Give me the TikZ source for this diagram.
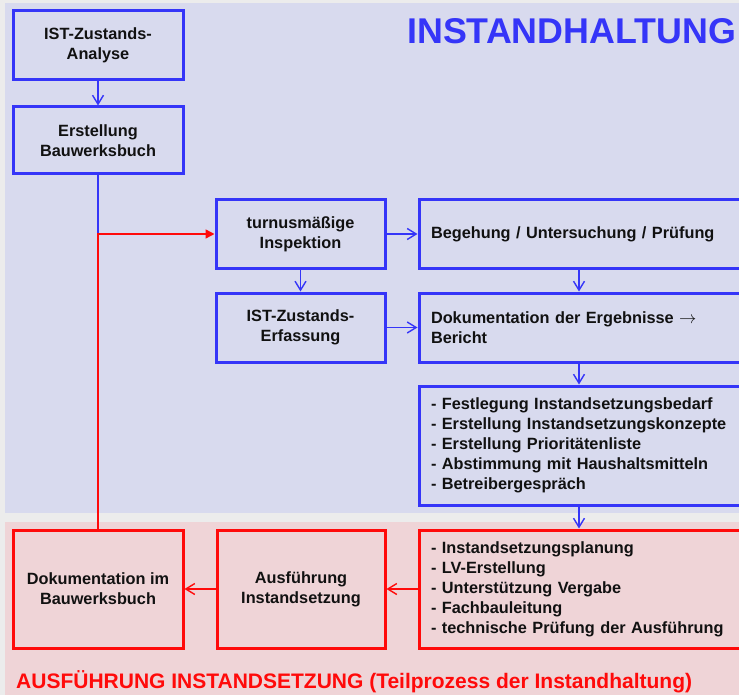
\documentclass[tikz,border=0pt]{standalone}
\usepackage{fontspec}
\setmainfont{Liberation Sans}
\usetikzlibrary{arrows.meta}
\definecolor{bgray}{HTML}{ECECEC}
\definecolor{bluearea}{HTML}{D8DAEE}
\definecolor{redarea}{HTML}{EFD4D7}
\definecolor{bblue}{HTML}{3535F8}
\definecolor{rred}{HTML}{FF0A0A}
\definecolor{txt}{HTML}{111111}
\tikzset{
  boxfont/.style={font=\bfseries\fontsize{16.3}{20}\selectfont, text=txt},
  bbox/.style={draw=bblue, line width=3pt, boxfont, align=center, inner sep=0pt},
  rbox/.style={draw=rred, line width=3pt, boxfont, align=center, inner sep=0pt},
  widebox/.style={minimum width=326pt, text width=302pt, inner xsep=12pt, align=left},
  bline/.style={draw=bblue, line width=1.4pt},
  rline/.style={draw=rred, line width=1.4pt},
  barb/.style={-{Straight Barb[length=9pt,width=11pt,line width=1.4pt]}},
  tri/.style={-{Triangle[length=9pt,width=9pt]}},
}
\begin{document}
\begin{tikzpicture}[x=1pt,y=-1pt]
\useasboundingbox (0,0) rectangle (739,695);
\begin{scope}
\clip (0,0) rectangle (739,695);
\fill[bgray] (0,0) rectangle (739,695);
\fill[bluearea] (5,3) rectangle (739,513);
\fill[redarea] (5,522) rectangle (739,695);

\node[text=bblue, font=\bfseries\fontsize{35.8}{40}\selectfont, anchor=base west, inner sep=0pt] (title) at (407,44) {INSTANDHALTUNG};

\node[bbox, minimum width=170pt, minimum height=69pt] (ista) at (98,45.5) {IST-Zustands-\\Analyse};
\node[bbox, minimum width=170pt, minimum height=67pt] (bwb) at (98,140.5) {Erstellung\\Bauwerksbuch};
\node[bbox, minimum width=169pt, minimum height=68pt] (turnus) at (300.5,234) {turnusmäßige\\Inspektion};
\node[bbox, minimum width=169pt, minimum height=69pt] (iste) at (300.5,327.5) {IST-Zustands-\\Erfassung};
\node[bbox, widebox, minimum height=68pt] (beg) at (582,234) {Begehung / Untersuchung / Prüfung};
\node[bbox, widebox, minimum height=69pt] (doku) at (582,327.5) {Dokumentation der Ergebnisse {\fontsize{19}{20}\selectfont$\rightarrow$}\\Bericht};
\node[bbox, widebox, minimum height=119pt] (fest) at (582,445.5) {- Festlegung Instandsetzungsbedarf\\- Erstellung Instandsetzungskonzepte\\- Erstellung Prioritätenliste\\- Abstimmung mit Haushaltsmitteln\\- Betreibergespräch};

\node[rbox, widebox, minimum height=118pt] (plan) at (582,589) {- Instandsetzungsplanung\\- LV-Erstellung\\- Unterstützung Vergabe\\- Fachbauleitung\\- technische Prüfung der Ausführung};
\node[rbox, minimum width=168pt, minimum height=118pt] (ausf) at (301,589) {Ausführung\\Instandsetzung};
\node[rbox, minimum width=170pt, minimum height=118pt] (dokb) at (98,589) {Dokumentation im\\Bauwerksbuch};

\node[text=rred, font=\bfseries\fontsize{21}{24}\selectfont, anchor=base west, inner sep=0pt] (subtitle) at (16,688) {AUSFÜHRUNG INSTANDSETZUNG (Teilprozess der Instandhaltung)};

\coordinate (j) at (98,234);

\draw[bline, barb] (ista.south) -- (bwb.north);
\draw[bline] (bwb.south) -- (j);
\draw[rline, tri] (dokb.north) -- (j) -- (turnus.west);
\draw[bline, barb] (turnus.east) -- (beg.west);
\draw[bline, barb] (turnus.south) -- (iste.north);
\draw[bline, barb] (iste.east) -- (doku.west);
\draw[bline, barb] (beg.south -| 579,0) -- (doku.north -| 579,0);
\draw[bline, barb] (doku.south -| 579,0) -- (fest.north -| 579,0);
\draw[bline, barb] (fest.south -| 579,0) -- (plan.north -| 579,0);
\draw[rline, barb] (plan.west) -- (ausf.east);
\draw[rline, barb] (ausf.west) -- (dokb.east);
\end{scope}
\end{tikzpicture}
\end{document}
